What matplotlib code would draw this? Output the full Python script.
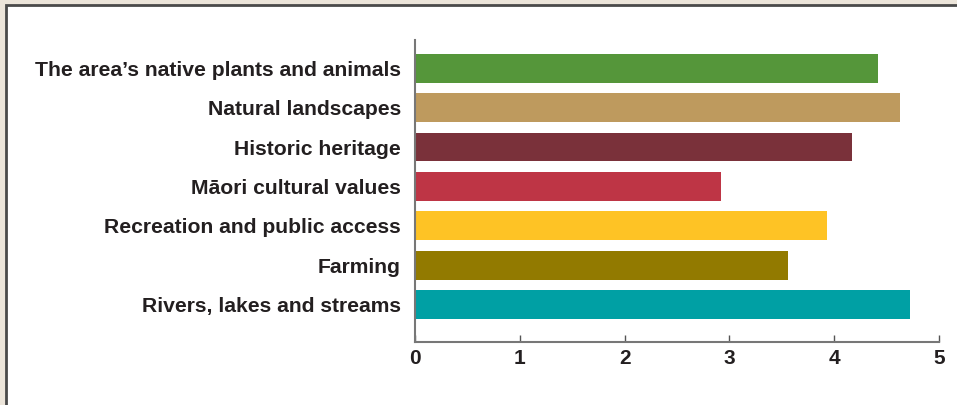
import matplotlib.pyplot as plt
from matplotlib.patches import Rectangle

categories = [
    "The area\u2019s native plants and animals",
    "Natural landscapes",
    "Historic heritage",
    "M\u0101ori cultural values",
    "Recreation and public access",
    "Farming",
    "Rivers, lakes and streams",
]
scores = [4.42, 4.63, 4.17, 2.92, 3.93, 3.56, 4.72]
colors = ["#55963a", "#be9a5e", "#7a313a", "#be3545", "#fec325", "#927a00", "#00a0a4"]
xticks = [0, 1, 2, 3, 4, 5]

plt.rcParams['font.family'] = ['Liberation Sans', 'DejaVu Sans']
text_color = "#231f20"

fig = plt.figure(figsize=(9.57, 4.05), dpi=100)
fig.patch.set_facecolor("#ece5da")

# white panel with dark edge running off the right and bottom
W, H = 957, 405
fig.patches.append(Rectangle((6 / W, -0.1), 1.2, (H - 5) / H + 0.1,
                             transform=fig.transFigure, facecolor="white",
                             edgecolor="#4a4a4a", linewidth=2, zorder=-10))

ax = fig.add_axes([415 / W, (H - 342) / H, (939 - 415) / W, (342 - 40) / H])
ax.set_facecolor("none")

ypos = list(range(len(categories) - 1, -1, -1))
ax.barh(ypos, scores, height=0.73, color=colors, zorder=2)

ax.set_xlim(0, 5)
ax.set_ylim(-0.95, 6.72)
ax.set_xticks(xticks)
ax.set_xticklabels([str(t) for t in xticks], fontsize=15, fontweight="bold", color=text_color)
ax.set_yticks(ypos)
ax.set_yticklabels(categories, fontsize=15.2, fontweight="bold", color=text_color)

for side in ("top", "right"):
    ax.spines[side].set_visible(False)
for side in ("left", "bottom"):
    ax.spines[side].set_color("#777777")
    ax.spines[side].set_linewidth(1.5)

ax.tick_params(axis="x", direction="in", length=5, width=1, color="#555555", pad=5)
ax.tick_params(axis="y", length=0, pad=10)

fig.savefig("out.png", dpi=100, facecolor=fig.get_facecolor())
